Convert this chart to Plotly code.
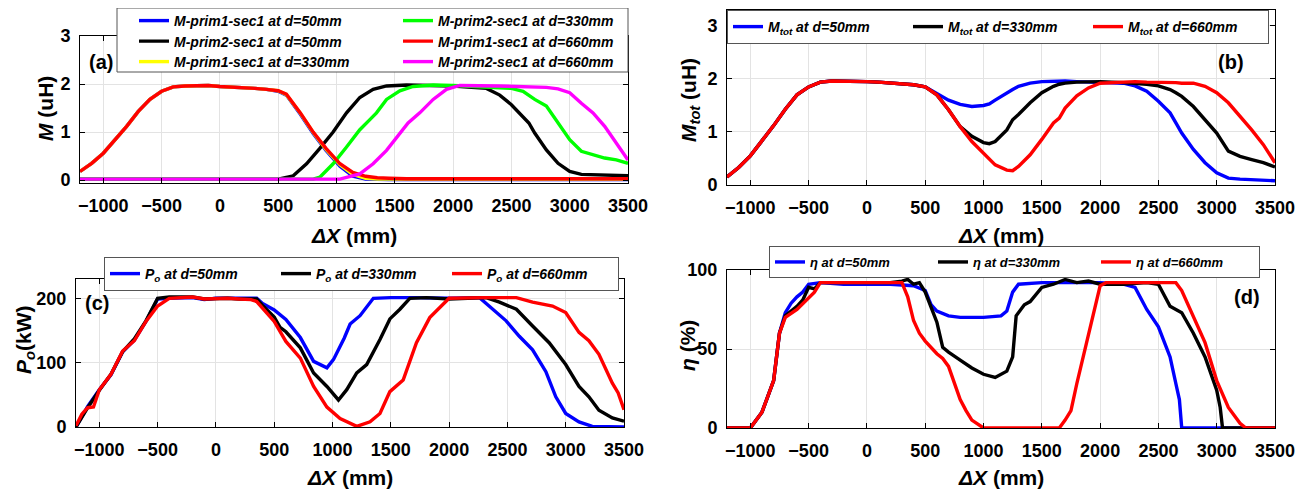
import plotly.graph_objects as go

W, H = 1309, 491

# ---------------- DATA ----------------
# Panel (a): mutual inductance M (uH)
xa_p1 = [-1200, -1100, -1000, -900, -800, -700, -600, -500, -400, -300, -200, -100, 0, 100, 200, 300, 400, 500, 570, 690, 800, 910, 1030, 1140, 1250, 1350, 1450, 1600, 2000, 2500, 3000, 3500]
ya_p1_50 = [0.18, 0.35, 0.56, 0.84, 1.12, 1.43, 1.68, 1.85, 1.94, 1.96, 1.97, 1.97, 1.95, 1.94, 1.93, 1.91, 1.89, 1.85, 1.77, 1.37, 0.97, 0.62, 0.29, 0.08, 0.02, 0.01, 0.01, 0.01, 0.01, 0.01, 0.01, 0.01]
ya_p1_330 = [0.18, 0.35, 0.56, 0.84, 1.12, 1.43, 1.68, 1.85, 1.94, 1.96, 1.97, 1.97, 1.95, 1.94, 1.93, 1.91, 1.89, 1.86, 1.78, 1.39, 0.99, 0.64, 0.32, 0.12, 0.04, 0.02, 0.02, 0.02, 0.02, 0.02, 0.02, 0.02]
ya_p1_660 = [0.18, 0.35, 0.56, 0.84, 1.12, 1.43, 1.68, 1.85, 1.94, 1.96, 1.97, 1.97, 1.95, 1.94, 1.93, 1.91, 1.89, 1.86, 1.79, 1.40, 1.00, 0.66, 0.34, 0.16, 0.08, 0.05, 0.04, 0.03, 0.03, 0.03, 0.03, 0.03]

xa_p2_50 = [-1200, 0, 500, 629, 743, 857, 971, 1086, 1200, 1314, 1429, 1600, 2000, 2286, 2400, 2500, 2600, 2650, 2700, 2800, 2900, 3000, 3100, 3200, 3500]
ya_p2_50 = [0.02, 0.02, 0.02, 0.09, 0.34, 0.66, 1.00, 1.40, 1.72, 1.89, 1.96, 1.98, 1.96, 1.91, 1.77, 1.57, 1.33, 1.19, 0.98, 0.63, 0.35, 0.18, 0.12, 0.11, 0.09]

xa_p2_330 = [-1200, 0, 800, 857, 971, 1086, 1200, 1286, 1343, 1429, 1543, 1657, 1829, 2000, 2200, 2400, 2500, 2600, 2700, 2800, 2900, 3000, 3100, 3200, 3300, 3400, 3500]
ya_p2_330 = [0.02, 0.02, 0.02, 0.06, 0.34, 0.69, 1.05, 1.26, 1.40, 1.68, 1.86, 1.95, 1.98, 1.97, 1.95, 1.93, 1.91, 1.85, 1.68, 1.54, 1.19, 0.84, 0.60, 0.53, 0.46, 0.42, 0.35]

xa_p2_660 = [-1200, 0, 1029, 1200, 1314, 1429, 1543, 1614, 1714, 1829, 1943, 2057, 2400, 2800, 2900, 3000, 3100, 3200, 3300, 3400, 3500]
ya_p2_660 = [0.02, 0.02, 0.02, 0.13, 0.34, 0.62, 0.98, 1.19, 1.40, 1.68, 1.89, 1.97, 1.96, 1.93, 1.90, 1.82, 1.60, 1.40, 1.12, 0.77, 0.42]

# Panel (b): total mutual inductance Mtot (uH)
xb = [-1200, -1100, -1000, -900, -800, -700, -600, -500, -400, -300, -200, -100, 0, 100, 200, 300, 400, 500, 600, 700, 800, 900, 1000, 1050, 1100, 1200, 1250, 1300, 1400, 1500, 1600, 1650, 1700, 1800, 1900, 2000, 2200, 2300, 2400, 2500, 2600, 2650, 2700, 2800, 2900, 3000, 3100, 3200, 3300, 3400, 3500]
yb_50 = [0.15, 0.33, 0.55, 0.83, 1.12, 1.43, 1.70, 1.85, 1.94, 1.96, 1.96, 1.96, 1.95, 1.94, 1.92, 1.90, 1.89, 1.85, 1.72, 1.60, 1.52, 1.48, 1.50, 1.53, 1.60, 1.74, 1.80, 1.86, 1.92, 1.95, 1.96, 1.96, 1.96, 1.95, 1.94, 1.94, 1.92, 1.87, 1.77, 1.58, 1.36, 1.17, 0.98, 0.67, 0.42, 0.23, 0.13, 0.11, 0.10, 0.09, 0.08]
yb_330 = [0.15, 0.33, 0.55, 0.83, 1.12, 1.43, 1.70, 1.85, 1.94, 1.96, 1.96, 1.96, 1.95, 1.94, 1.92, 1.90, 1.89, 1.85, 1.70, 1.42, 1.10, 0.92, 0.80, 0.78, 0.82, 1.04, 1.23, 1.33, 1.55, 1.74, 1.86, 1.90, 1.92, 1.94, 1.95, 1.95, 1.93, 1.92, 1.90, 1.87, 1.80, 1.74, 1.67, 1.48, 1.23, 0.98, 0.64, 0.54, 0.48, 0.42, 0.34]
yb_660 = [0.15, 0.33, 0.55, 0.83, 1.12, 1.43, 1.70, 1.85, 1.94, 1.96, 1.96, 1.96, 1.95, 1.94, 1.92, 1.90, 1.89, 1.85, 1.70, 1.42, 1.10, 0.82, 0.60, 0.49, 0.38, 0.28, 0.27, 0.35, 0.57, 0.86, 1.17, 1.26, 1.45, 1.68, 1.83, 1.92, 1.95, 1.95, 1.94, 1.94, 1.93, 1.93, 1.92, 1.92, 1.86, 1.74, 1.55, 1.30, 1.04, 0.76, 0.42]

# Panel (c): output power Po (kW)
xc_50 = [-1200, -1100, -1000, -900, -800, -700, -600, -500, -400, -300, -200, -100, 0, 100, 200, 300, 350, 400, 500, 600, 724, 838, 952, 1009, 1100, 1151, 1236, 1350, 1500, 1700, 2000, 2261, 2375, 2489, 2602, 2716, 2830, 2915, 3000, 3114, 3228, 3500]
yc_50 = [0, 32, 58, 81, 117, 135, 164, 199, 200, 201, 201, 198, 200, 200, 200, 200, 200, 192, 182, 167, 139, 102, 92, 105, 138, 160, 173, 200, 201, 201, 200, 201, 183, 165, 141, 120, 86, 47, 21, 8, 1, 0]
xc_330 = [-1200, -1100, -1000, -900, -800, -700, -600, -500, -400, -300, -200, -100, 0, 100, 200, 300, 350, 400, 500, 550, 600, 724, 838, 952, 1051, 1122, 1208, 1293, 1407, 1492, 1578, 1663, 1805, 2000, 2318, 2432, 2577, 2716, 2858, 3000, 3114, 3199, 3285, 3400, 3500]
yc_330 = [0, 30, 57, 82, 117, 137, 165, 200, 202, 202, 202, 199, 200, 200, 199, 199, 199, 189, 171, 155, 148, 123, 84, 63, 42, 58, 84, 97, 136, 168, 183, 200, 201, 199, 201, 194, 183, 157, 131, 97, 63, 47, 26, 14, 9]
xc_660 = [-1200, -1150, -1100, -1050, -1000, -900, -800, -700, -600, -500, -400, -300, -200, -100, 0, 100, 200, 300, 350, 400, 500, 600, 724, 838, 952, 1065, 1208, 1322, 1407, 1492, 1606, 1720, 1834, 2000, 2148, 2300, 2577, 2716, 2887, 3000, 3114, 3199, 3285, 3400, 3450, 3500]
yc_660 = [2, 20, 30, 31, 58, 82, 118, 134, 164, 188, 200, 201, 202, 199, 200, 200, 199, 198, 195, 184, 164, 133, 107, 63, 31, 13, 1, 8, 21, 55, 73, 131, 170, 200, 201, 201, 201, 194, 188, 178, 147, 134, 113, 68, 53, 27]

# Panel (d): efficiency eta (%)
xd_50 = [-1200, -1000, -900, -800, -750, -700, -650, -600, -550, -500, -400, -200, 0, 200, 400, 500, 550, 600, 700, 800, 1000, 1150, 1200, 1250, 1300, 1500, 2000, 2200, 2300, 2400, 2500, 2550, 2600, 2650, 2680, 2700, 3500]
yd_50 = [0, 0, 10, 30, 60, 73, 79, 83, 86, 91, 92, 91, 91, 91, 90, 87, 78, 74, 71, 70, 70, 71, 74, 86, 91, 92, 92, 91, 89, 75, 64, 54, 45, 28, 18, 0, 0]
xd_330 = [-1200, -1000, -900, -800, -750, -700, -600, -550, -500, -450, -400, -200, 0, 200, 300, 350, 400, 450, 500, 600, 650, 700, 800, 900, 1000, 1100, 1200, 1250, 1280, 1300, 1350, 1400, 1500, 1600, 1700, 1800, 1900, 2000, 2200, 2400, 2500, 2600, 2700, 2800, 2900, 3000, 3030, 3050, 3500]
yd_330 = [0, 0, 10, 30, 60, 71, 77, 81, 89, 88, 92, 92, 92, 92, 93, 94, 91, 92, 86, 67, 51, 48, 43, 38, 34, 32, 36, 45, 71, 73, 78, 80, 89, 91, 94, 92, 93, 91, 91, 92, 91, 77, 73, 60, 45, 24, 13, 0, 0]
xd_660 = [-1200, -1000, -900, -800, -750, -700, -600, -500, -450, -400, -200, 0, 200, 300, 350, 400, 450, 500, 600, 650, 700, 750, 800, 850, 900, 1000, 1650, 1700, 1750, 1800, 1900, 2000, 2050, 2200, 2500, 2650, 2700, 2800, 2900, 3000, 3100, 3200, 3250, 3500]
yd_660 = [0, 0, 10, 30, 60, 70, 75, 82, 86, 92, 92, 92, 92, 92, 83, 68, 60, 55, 47, 44, 39, 28, 18, 11, 5, 0, 0, 5, 11, 28, 60, 90, 92, 92, 92, 92, 87, 71, 54, 30, 13, 3, 0, 0]

x_ticks = [-1000, -500, 0, 500, 1000, 1500, 2000, 2500, 3000, 3500]

# ---------------- STYLE ----------------
FONT = "Liberation Sans, Arial, sans-serif"
BLUE, BLACK, YELLOW, GREEN, RED, MAG = "#0000FF", "#000000", "#FFFF00", "#00FF00", "#FF0000", "#FF00FF"
LW = 3.4
OFF = 8  # page body margin of the html page


def fx(p):
    return (p - OFF) / W


def fy(p):
    return 1 - (p - OFF) / H


fig = go.Figure()


def add(x, y, color, name, ax, leg, rank):
    fig.add_trace(go.Scatter(
        x=x, y=y, mode="lines", name=name,
        line=dict(color=color, width=LW),
        xaxis="x" + ("" if ax == 1 else str(ax)),
        yaxis="y" + ("" if ax == 1 else str(ax)),
        legend=leg, legendrank=rank,
    ))


# (a) -- legend in three rows of two entries
add(xa_p1, ya_p1_50, BLUE, "M-prim1-sec1 at d=50mm", 1, "legend", 1)
add(xa_p2_50, ya_p2_50, BLACK, "M-prim2-sec1 at d=50mm", 1, "legend2", 1)
add(xa_p1, ya_p1_330, YELLOW, "M-prim1-sec1 at d=330mm", 1, "legend3", 1)
add(xa_p2_330, ya_p2_330, GREEN, "M-prim2-sec1 at d=330mm", 1, "legend", 2)
add(xa_p1, ya_p1_660, RED, "M-prim1-sec1 at d=660mm", 1, "legend2", 2)
add(xa_p2_660, ya_p2_660, MAG, "M-prim2-sec1 at d=660mm", 1, "legend3", 2)
# (b)
add(xb, yb_50, BLUE, "M<sub>tot</sub> at d=50mm", 2, "legend4", 1)
add(xb, yb_330, BLACK, "M<sub>tot</sub> at d=330mm", 2, "legend4", 2)
add(xb, yb_660, RED, "M<sub>tot</sub> at d=660mm", 2, "legend4", 3)
# (c)
add(xc_50, yc_50, BLUE, "P<sub>o</sub> at d=50mm", 3, "legend5", 1)
add(xc_330, yc_330, BLACK, "P<sub>o</sub> at d=330mm", 3, "legend5", 2)
add(xc_660, yc_660, RED, "P<sub>o</sub> at d=660mm", 3, "legend5", 3)
# (d)
add(xd_50, yd_50, BLUE, "η at d=50mm", 4, "legend6", 1)
add(xd_330, yd_330, BLACK, "η at d=330mm", 4, "legend6", 2)
add(xd_660, yd_660, RED, "η at d=660mm", 4, "legend6", 3)

tickfont = dict(family=FONT, size=18, color="black", weight="bold")
titlefont = dict(family=FONT, size=21, color="black", weight="bold")


def xaxis(dom, anchor):
    return dict(domain=dom, anchor=anchor, range=[-1200, 3500], tickvals=x_ticks,
                ticks="inside", ticklen=5, tickcolor="black", showline=True, linecolor="black",
                linewidth=1, mirror="ticks", showgrid=True, gridcolor="#e3e3e3", gridwidth=1,
                zeroline=False, tickfont=tickfont, automargin=False, ticklabelstandoff=6)


def yaxis(dom, anchor, rng, tv):
    return dict(domain=dom, anchor=anchor, range=rng, tickvals=tv,
                ticks="inside", ticklen=5, tickcolor="black", showline=True, linecolor="black",
                linewidth=1, mirror="ticks", showgrid=True, gridcolor="#e3e3e3", gridwidth=1,
                zeroline=False, tickfont=tickfont, ticklabelstandoff=5, automargin=False)


legfont = dict(family=FONT, size=14, color="black", weight="bold", style="italic")


def legend(x, y, entry, border=1, size=14, yanchor="top"):
    return dict(x=fx(x), y=fy(y), xref="container", yref="container",
                xanchor="left", yanchor=yanchor, orientation="h",
                bgcolor="rgba(0,0,0,0)" if border == 0 else "white",
                bordercolor="#555555", borderwidth=border,
                font=dict(legfont, size=size), tracegroupgap=0, traceorder="normal",
                entrywidth=entry, entrywidthmode="pixels")


fig.update_layout(
    width=W, height=H,
    margin=dict(l=0, r=0, t=0, b=0, autoexpand=False),
    paper_bgcolor="white", plot_bgcolor="white",
    showlegend=True,
    xaxis=xaxis([fx(80), fx(628)], "y"),
    yaxis=yaxis([fy(183), fy(36)], "x", [-0.06, 3], [0, 1, 2, 3]),
    xaxis2=xaxis([fx(727), fx(1275)], "y2"),
    yaxis2=yaxis([fy(185), fy(10)], "x2", [0, 3.3], [0, 1, 2, 3]),
    xaxis3=xaxis([fx(76), fx(624)], "y3"),
    yaxis3=yaxis([fy(427), fy(279)], "x3", [0, 230], [0, 100, 200]),
    xaxis4=xaxis([fx(727), fx(1275)], "y4"),
    yaxis4=yaxis([fy(428), fy(270)], "x4", [0, 100], [0, 50, 100]),
    legend=legend(134, 21, 219, border=0, yanchor="middle"),
    legend2=legend(134, 41.5, 219, border=0, yanchor="middle"),
    legend3=legend(134, 62, 219, border=0, yanchor="middle"),
    legend4=legend(727, 10, 135),
    legend5=legend(104, 257, 126),
    legend6=legend(769, 246, 118, size=13),
)

# frame of the two-column legend of panel (a)
fig.add_shape(type="rect", xref="paper", yref="paper",
              x0=fx(117), x1=fx(628), y0=fy(72), y1=fy(8),
              line=dict(color="#555555", width=1), fillcolor="white", layer="above")

labels = [("(a)", 101, 62), ("(b)", 1231, 62), ("(c)", 97, 303), ("(d)", 1247, 297)]
for t, x, y in labels:
    fig.add_annotation(text=t, x=fx(x), y=fy(y), xref="paper", yref="paper",
                       showarrow=False, font=dict(family=FONT, size=20, color="black", weight="bold"),
                       xanchor="center", yanchor="middle")

# axis titles
xtitles = [(354, 235), (1001, 235), (350, 477), (1001, 477)]
for x, y in xtitles:
    fig.add_annotation(text="<i>ΔX</i> (mm)", x=fx(x), y=fy(y), xref="paper", yref="paper",
                       showarrow=False, font=titlefont, xanchor="center", yanchor="middle")

ytitles = [("<i>M</i> (uH)", 45, 109), ("<i>M<sub>tot</sub></i> (uH)", 690, 100),
           ("<i>P<sub>o</sub></i>(kW)", 25, 340), ("<i>η</i> (%)", 687, 346)]
for t, x, y in ytitles:
    fig.add_annotation(text=t, x=fx(x), y=fy(y), xref="paper", yref="paper", textangle=-90,
                       showarrow=False, font=titlefont, xanchor="center", yanchor="middle")

fig.write_html("out.html")
